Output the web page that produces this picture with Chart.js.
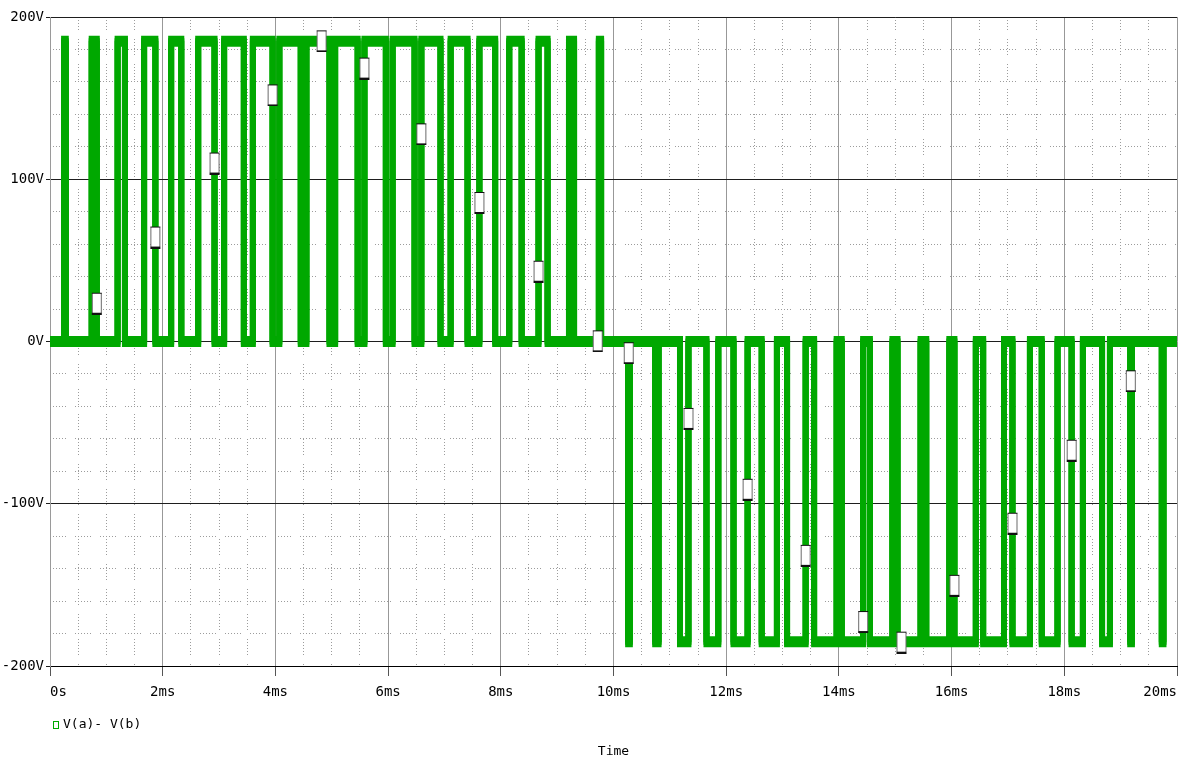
<!DOCTYPE html>
<html>
<head>
<meta charset="utf-8">
<title>V(a)- V(b)</title>
<script src="https://cdn.jsdelivr.net/npm/chart.js@4.4.1/dist/chart.umd.min.js"></script>
<style>
  html, body { margin: 0; padding: 0; background: #ffffff; }
  #wrap { width: 1184px; height: 764px; }
</style>
</head>
<body>
<div id="wrap"><canvas id="c" width="1184" height="764"></canvas></div>
<script>
// Axis ticks
const timeTicks = [0, 2, 4, 6, 8, 10, 12, 14, 16, 18, 20];          // ms
const timeLabels = ['0s', '2ms', '4ms', '6ms', '8ms', '10ms', '12ms', '14ms', '16ms', '18ms', '20ms'];
const voltTicks = [-200, -100, 0, 100, 200];
const voltLabels = ['-200V', '-100V', '0V', '100V', '200V'];
const minorTimeStep = 0.5;   // ms, dotted grid
const minorVoltStep = 20;    // V, dotted grid

// Bridge output V(a)-V(b): pulse level and switching instants [on, off] in ms
const pulseLevel = 185;
const positivePulses = [
  [0.25, 0.28], [0.74, 0.83], [1.20, 1.33], [1.67, 1.87], [2.15, 2.33],
  [2.63, 2.92], [3.09, 3.44], [3.60, 3.95], [4.07, 4.45], [4.55, 4.96],
  [5.06, 5.46], [5.58, 5.96], [6.08, 6.47], [6.59, 6.93], [7.11, 7.41],
  [7.62, 7.90], [8.15, 8.37], [8.67, 8.83], [9.21, 9.30], [9.74, 9.78]
];
const negativePulses = [
  [10.26, 10.29], [10.74, 10.80], [11.18, 11.33], [11.65, 11.86], [12.13, 12.38],
  [12.63, 12.90], [13.08, 13.41], [13.56, 13.96], [14.05, 14.43], [14.55, 14.95],
  [15.04, 15.45], [15.55, 15.96], [16.05, 16.43], [16.56, 16.93], [17.08, 17.39],
  [17.60, 17.88], [18.13, 18.33], [18.67, 18.81], [19.17, 19.20], [19.73, 19.76]
];
const traceEnd = 20;

// Trace symbols placed along the waveform
const markerTimes = [0.83, 1.87, 2.92, 3.95, 4.82, 5.58, 6.59, 7.62, 8.67, 9.72,
                     10.27, 11.33, 12.38, 13.41, 14.43, 15.11, 16.05, 17.08, 18.13, 19.18];
const markerVolts = [23.6, 64.4, 110, 152, 185.3, 168.5, 128, 85.7, 43.3, 0.4,
                     -6.9, -47.4, -91.1, -131.8, -172.6, -185.3, -150.3, -112, -67, -24.2];

const traceLabel = 'V(a)- V(b)';
const traceColor = '#00a800';
const monoFont = '"DejaVu Sans Mono", "Liberation Mono", monospace';
const dottedGrid = [1, 2, 1, 2, 1, 2, 1, 2, 1, 2, 1, 9];

// Expand switching instants into a square-wave polyline
function buildTrace() {
  const pts = [{ x: 0, y: 0 }];
  positivePulses.forEach(([on, off]) => {
    pts.push({ x: on, y: 0 }, { x: on, y: pulseLevel }, { x: off, y: pulseLevel }, { x: off, y: 0 });
  });
  negativePulses.forEach(([on, off]) => {
    pts.push({ x: on, y: 0 }, { x: on, y: -pulseLevel }, { x: off, y: -pulseLevel }, { x: off, y: 0 });
  });
  pts.push({ x: traceEnd, y: 0 });
  return pts;
}
const tracePoints = buildTrace();
const markerPoints = markerTimes.map((t, i) => ({ x: t, y: markerVolts[i] }));

// White rectangular trace symbol
function makeMarker() {
  const c = document.createElement('canvas');
  c.width = 12; c.height = 23;
  const g = c.getContext('2d');
  g.fillStyle = '#ffffff';
  g.fillRect(1, 1, 10, 21);
  g.strokeStyle = '#6a6a6a';
  g.lineWidth = 1;
  g.strokeRect(1.5, 1.5, 9, 20);
  g.fillStyle = '#111111';
  g.fillRect(1, 1, 10, 1);
  g.fillRect(1, 21, 10, 2);
  return c;
}

function ticksFrom(values) {
  return (scale) => { scale.ticks = values.map(v => ({ value: v })); };
}
function stepTicks(min, max, step) {
  return (scale) => {
    const out = [];
    for (let v = min; v <= max + 1e-9; v += step) out.push({ value: +v.toFixed(4) });
    scale.ticks = out;
  };
}

// Thick trace drawn with a tall rectangular pen
const rectPen = {
  id: 'rectPen',
  afterDatasetDraw(chart, args) {
    if (args.index !== 0) return;
    const ctx = chart.ctx;
    [-2.5, 2.5].forEach(dy => {
      ctx.save();
      ctx.translate(0, dy);
      args.meta.controller.draw();
      ctx.restore();
    });
  }
};

// Trace legend row under the time axis
const legendRow = {
  id: 'legendRow',
  afterDraw(chart) {
    const ctx = chart.ctx;
    const ds = chart.data.datasets[0];
    const x = chart.chartArea.left + 3;
    const y = chart.chartArea.bottom + 59;
    ctx.save();
    ctx.strokeStyle = ds.borderColor;
    ctx.lineWidth = 1;
    ctx.strokeRect(x + 0.5, y - 3.5, 5, 7);
    ctx.fillStyle = '#000000';
    ctx.font = '13px ' + monoFont;
    ctx.textBaseline = 'middle';
    ctx.textAlign = 'left';
    ctx.fillText(ds.label, x + 10, y);
    ctx.restore();
  }
};

new Chart(document.getElementById('c'), {
  type: 'line',
  data: {
    datasets: [
      {
        label: traceLabel,
        data: tracePoints,
        borderColor: traceColor,
        backgroundColor: traceColor,
        borderWidth: 6,
        borderJoinStyle: 'miter',
        borderCapStyle: 'butt',
        pointRadius: 0,
        tension: 0,
        fill: false,
        order: 1,
        clip: 12
      },
      {
        label: 'symbols',
        data: markerPoints,
        showLine: false,
        pointStyle: makeMarker(),
        pointRadius: 10,
        order: 0,
        clip: 12
      }
    ]
  },
  options: {
    responsive: false,
    animation: false,
    devicePixelRatio: 1,
    layout: { autoPadding: false, padding: { top: 17, right: 7, left: 0, bottom: 0 } },
    plugins: {
      legend: { display: false },
      tooltip: { enabled: false },
      title: { display: false }
    },
    scales: {
      xMinor: {
        type: 'linear', min: 0, max: 20, position: 'bottom',
        afterBuildTicks: stepTicks(0, 20, minorTimeStep),
        ticks: { display: false },
        grid: { color: '#9c9c9c', lineWidth: 1, drawTicks: false, z: -1 },
        border: { display: false, dash: dottedGrid, dashOffset: 3 },
        afterFit(s) { s.height = 0; s.paddingLeft = 0; s.paddingRight = 0; }
      },
      yMinor: {
        type: 'linear', min: -200, max: 200, position: 'left',
        afterBuildTicks: stepTicks(-200, 200, minorVoltStep),
        ticks: { display: false },
        grid: { color: '#9c9c9c', lineWidth: 1, drawTicks: false, z: -1 },
        border: { display: false, dash: dottedGrid },
        afterFit(s) { s.width = 0; s.paddingTop = 0; s.paddingBottom = 0; }
      },
      x: {
        type: 'linear', min: 0, max: 20, position: 'bottom',
        afterBuildTicks: ticksFrom(timeTicks),
        ticks: {
          callback: (v, i) => timeLabels[i],
          font: { family: monoFont, size: 14 },
          color: '#000000',
          padding: 8,
          maxRotation: 0,
          autoSkip: false,
          align: 'inner'
        },
        grid: { color: '#989898', lineWidth: 1, drawTicks: true, tickLength: 10, tickColor: '#555555' },
        border: { display: true, color: '#000000', width: 1 },
        title: {
          display: true, text: 'Time', color: '#000000',
          font: { family: monoFont, size: 13 },
          padding: { top: 0, bottom: 5 }
        },
        afterFit(s) { s.height = 98; s.paddingLeft = 0; s.paddingRight = 0; }
      },
      y: {
        type: 'linear', min: -200, max: 200, position: 'left',
        afterBuildTicks: ticksFrom(voltTicks),
        ticks: {
          callback: (v, i) => voltLabels[i],
          font: { family: monoFont, size: 14 },
          color: '#000000',
          padding: 2
        },
        grid: { color: '#1e1e1e', lineWidth: 1, drawTicks: true, tickLength: 4, tickColor: '#1e1e1e' },
        border: { display: true, color: '#9a9a9a', width: 1 },
        afterFit(s) { s.width = 50; s.paddingTop = 0; s.paddingBottom = 0; }
      }
    }
  },
  plugins: [rectPen, legendRow]
});
</script>
</body>
</html>
